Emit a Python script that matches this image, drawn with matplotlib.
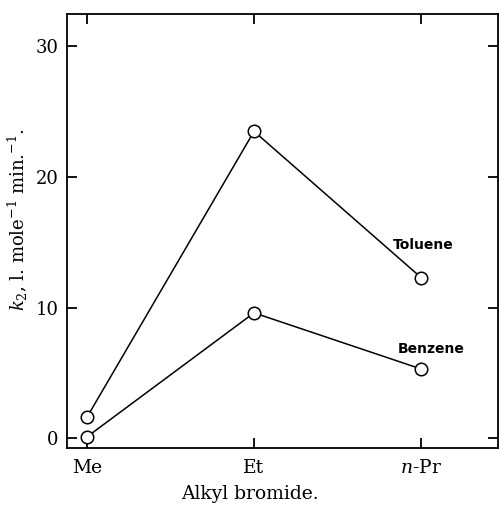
import matplotlib
matplotlib.use("Agg")
import matplotlib.pyplot as plt

categories = ["Me", "Et", "$n$-Pr"]
toluene = [1.6, 23.5, 12.3]
benzene = [0.1, 9.6, 5.3]
yticks = [0, 10, 20, 30]

plt.rcParams['font.family'] = ['DejaVu Serif']
plt.rcParams['mathtext.fontset'] = 'dejavuserif'

fig = plt.figure(figsize=(4.99, 5.12), dpi=100)
ax = fig.add_axes([0.134, 0.125, 0.864, 0.848])

x = list(range(len(categories)))
for ys in (toluene, benzene):
    ax.plot(x, ys, color='black', lw=1.1, marker='o', markersize=9,
            markerfacecolor='white', markeredgecolor='black', markeredgewidth=1.1)

ax.text(1.83, 14.5, "Toluene", fontsize=10, family='DejaVu Sans', fontweight='bold')
ax.text(1.86, 6.5, "Benzene", fontsize=10, family='DejaVu Sans', fontweight='bold')

ax.set_xlim(-0.12, 2.46)
ax.set_ylim(-0.75, 32.5)
ax.set_xticks(x)
ax.set_xticklabels(categories, fontsize=13.5)
ax.set_yticks(yticks)
ax.set_yticklabels([str(v) for v in yticks], fontsize=13)
ax.tick_params(direction='in', top=True, right=True, length=7, width=1.3)
ax.tick_params(axis='x', pad=8)
ax.tick_params(axis='y', pad=6)
for s in ax.spines.values():
    s.set_linewidth(1.3)

ax.set_xlabel("Alkyl bromide.", fontsize=13.5)
ax.xaxis.set_label_coords(0.425, -0.085)
ax.set_ylabel("$k_2$, l. mole$^{-1}$ min.$^{-1}$.", fontsize=13)
ax.yaxis.set_label_coords(-0.085, 0.525)

fig.savefig("out.png", dpi=100)
